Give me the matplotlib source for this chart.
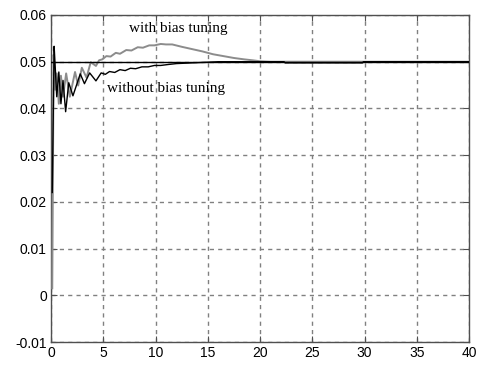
import matplotlib
matplotlib.use("Agg")
import matplotlib.pyplot as plt
import numpy as np

# Data: "with bias tuning" (grey) curve
t_with = [0.12, 0.25, 0.4, 0.55, 0.75, 0.95, 1.15, 1.45, 1.8, 2.3, 2.6, 2.95, 3.4,
          3.8, 4.3, 4.6, 4.9, 5.3, 5.7, 6.2, 6.6, 7.2, 7.7, 8.3, 8.8, 9.4, 9.9,
          10.5, 11.0, 11.6, 12.5, 13.5, 14.5, 15.5, 16.5, 17.5, 18.5, 19.3, 20.0,
          21.0, 40.0]
y_with = [0.0015, 0.0515, 0.0440, 0.0475, 0.0410, 0.0470, 0.0425, 0.0475, 0.0425,
          0.0478, 0.0449, 0.0487, 0.0466, 0.0499, 0.0491, 0.0503, 0.0505, 0.0512,
          0.0511, 0.0519, 0.0517, 0.0525, 0.0524, 0.0531, 0.0530, 0.0535, 0.0535,
          0.0538, 0.0537, 0.0537, 0.0532, 0.0527, 0.0522, 0.0516, 0.0512, 0.0508,
          0.0505, 0.0503, 0.0501, 0.0500, 0.0500]

# Data: "without bias tuning" (black) curve
t_without = [0.12, 0.3, 0.4, 0.55, 0.75, 0.95, 1.15, 1.4, 1.7, 2.1, 2.8, 3.2, 3.7,
             4.3, 4.8, 5.2, 5.6, 6.1, 6.6, 7.1, 7.6, 8.1, 8.7, 9.3, 9.9, 10.5, 11.2,
             12.0, 13.0, 14.0, 15.0, 16.0, 22.3, 22.4, 29.8, 29.9, 40.0]
y_without = [0.0220, 0.0533, 0.0490, 0.0425, 0.0478, 0.0410, 0.0460, 0.0393, 0.0455,
             0.0427, 0.0474, 0.0453, 0.0476, 0.0459, 0.0476, 0.0473, 0.0479, 0.0477,
             0.0483, 0.0481, 0.0486, 0.0485, 0.0489, 0.0489, 0.0492, 0.0492, 0.0494,
             0.0496, 0.0497, 0.0498, 0.0499, 0.0500, 0.0500, 0.04975, 0.04975, 0.0500,
             0.0500]

reference_value = 0.05
x_ticks = [0, 5, 10, 15, 20, 25, 30, 35, 40]
y_ticks = [-0.01, 0, 0.01, 0.02, 0.03, 0.04, 0.05, 0.06]
y_tick_labels = ["-0.01", "0", "0.01", "0.02", "0.03", "0.04", "0.05", "0.06"]

plt.rcParams['font.family'] = ['Liberation Sans', 'DejaVu Sans']

fig = plt.figure(figsize=(4.78, 3.65), dpi=100)
ax = fig.add_axes([51/478, 23/365, 418/478, 327/365])

ax.set_xlim(0, 40)
ax.set_ylim(-0.01, 0.06)
ax.set_xticks(x_ticks)
ax.set_xticklabels([str(v) for v in x_ticks])
ax.set_yticks(y_ticks)
ax.set_yticklabels(y_tick_labels)

ax.grid(True, color='#808080', linestyle=(0, (3, 3)), linewidth=1)
ax.set_axisbelow(True)

ax.plot(t_with, y_with, color='#8c8c8c', linewidth=1.4, zorder=3)
ax.plot(t_without, y_without, color='black', linewidth=1.0, zorder=4)
ax.plot([0, 40], [reference_value, reference_value], color='black', linewidth=1.0, zorder=5)

ax.text(12.2, 0.0572, "with bias tuning", family=['Liberation Serif', 'DejaVu Serif'],
        fontsize=11, ha='center', va='center')
ax.text(11.0, 0.0442, "without bias tuning", family=['Liberation Serif', 'DejaVu Serif'],
        fontsize=11, ha='center', va='center')

for s in ax.spines.values():
    s.set_color('#505050')
    s.set_linewidth(1.0)
ax.tick_params(direction='in', length=4, top=True, right=True, labelsize=10,
               color='#505050', pad=3)

fig.savefig("out.png", dpi=100)
